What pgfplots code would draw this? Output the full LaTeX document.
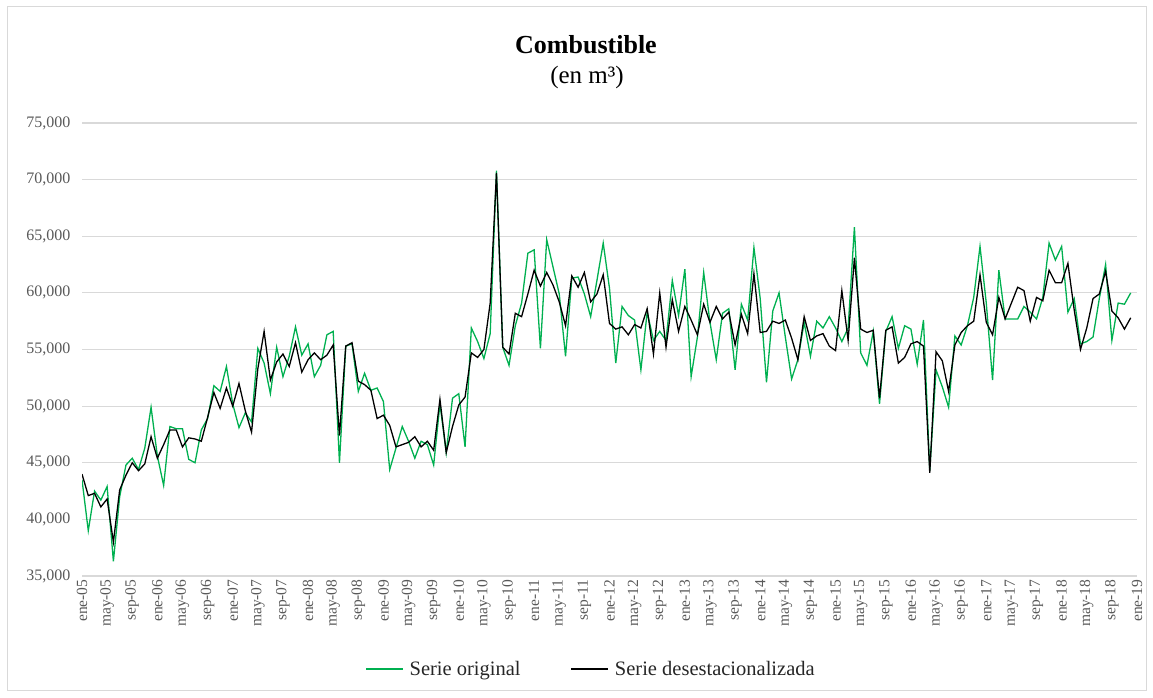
\documentclass[border=0pt]{standalone}
\usepackage{pgfplots}
\usepackage{pgfplotstable}
\pgfplotsset{compat=1.18}
\usepackage{fontspec}
\setmainfont{Liberation Serif}
\definecolor{verde}{HTML}{00B050}
\definecolor{rejilla}{HTML}{D9D9D9}
\definecolor{texto}{HTML}{595959}

% serie original (g) y serie desestacionalizada (b), ene-05 a dic-18
\pgfplotstableread{
g b
43500 44000
39000 42100
42500 42300
41700 41100
42900 41800
36300 38000
42000 42600
44800 43900
45400 45000
44400 44300
46300 44900
49900 47300
45600 45400
43000 46600
48200 47900
48000 47900
48000 46400
45300 47200
45000 47100
47900 46900
48900 49000
51800 51200
51300 49800
53500 51600
50200 50000
48100 52000
49400 49600
48600 47700
55100 53300
53800 56600
51100 52300
55200 53900
52600 54600
54400 53500
57000 55600
54500 53000
55500 54100
52600 54700
53600 54100
56300 54500
56600 55400
45000 47400
55300 55300
55500 55600
51300 52200
52900 51900
51400 51400
51600 48900
50400 49200
44400 48300
46300 46400
48200 46600
46900 46800
45400 47300
46900 46400
46600 46900
44800 46100
50200 50600
45900 45900
50700 48200
51100 50100
46400 50800
56900 54700
55700 54300
54200 55000
56400 59100
70800 70600
55200 55200
53600 54600
57100 58200
59100 57900
63500 59900
63800 62000
55100 60600
64700 61800
62300 60700
59900 59200
54400 57100
61300 61500
61400 60500
59900 61800
57900 59200
61100 59900
64400 61600
60400 57300
53800 56800
58800 57000
58000 56300
57600 57200
53200 56900
58300 58600
55800 54600
56600 60000
55800 55200
61100 59400
58000 56600
62100 58800
52600 57600
56100 56300
61800 59000
57400 57400
54100 58800
58200 57700
58600 58300
53200 55400
59000 58100
57600 56400
64000 61700
59500 56500
52100 56600
58400 57500
60000 57300
56100 57600
52400 56000
54100 54100
57400 57900
54400 55800
57500 56200
56900 56400
57900 55300
56900 54900
55700 60200
56900 55800
65800 63100
54700 56800
53600 56500
56600 56700
50200 50700
56600 56700
57900 57000
55100 53800
57100 54300
56800 55500
53700 55700
57600 55300
44300 44100
53200 54800
51700 54000
49900 51300
56200 55400
55400 56500
57100 57100
59600 57500
64100 61600
59100 57400
52300 56300
62000 59600
57700 57700
57700 59100
57700 60500
58800 60200
58300 57500
57700 59600
59600 59300
64400 62000
62900 60900
64100 60900
58300 62600
59500 58500
55500 55000
55700 56900
56100 59500
59500 59900
62500 61900
55800 58400
59100 57800
59000 56800
60000 57800
}\datos

\begin{document}
\begin{tikzpicture}
\useasboundingbox (0,0) rectangle (1153bp,698bp);
\draw[rejilla, line width=1bp] (7bp,7bp) rectangle (1146bp,691bp);
\node[font=\fontsize{26bp}{30bp}\selectfont\bfseries] at (586bp,653bp) {Combustible};
\node[font=\fontsize{25bp}{29bp}\selectfont] at (587bp,621bp) {(en m³)};
\begin{axis}[
  at={(82bp,122bp)}, anchor=south west,
  scale only axis, width=1055bp, height=453bp,
  xmin=0, xmax=168, ymin=35000, ymax=75000,
  xtick={0,4,...,168},
  xticklabels={ene-05,may-05,sep-05,ene-06,may-06,sep-06,ene-07,may-07,sep-07,ene-08,may-08,sep-08,ene-09,may-09,sep-09,ene-10,may-10,sep-10,ene-11,may-11,sep-11,ene-12,may-12,sep-12,ene-13,may-13,sep-13,ene-14,may-14,sep-14,ene-15,may-15,sep-15,ene-16,may-16,sep-16,ene-17,may-17,sep-17,ene-18,may-18,sep-18,ene-19},
  ytick={35000,40000,...,75000},
  scaled y ticks=false,
  ymajorgrids, grid style={rejilla, line width=1.2bp},
  axis line style={draw=none},
  major tick length=0pt,
  /pgf/number format/.cd, fixed, precision=0, 1000 sep={,}, assume math mode=true,
  /pgfplots/.cd,
  yticklabel style={font=\fontsize{16bp}{18bp}\selectfont, text=texto, xshift=-8bp},
  xticklabel style={font=\fontsize{15.5bp}{18bp}\selectfont, text=texto, rotate=90, anchor=east},
  legend style={at={(0.4825,-0.205)}, anchor=center, draw=none, fill=none,
    font=\fontsize{20.5bp}{23bp}\selectfont, text=black!85,
    /tikz/every odd column/.append style={column sep=4bp},
    /tikz/every even column/.append style={column sep=48bp}},
  legend columns=2,
  legend image code/.code={\draw[#1] (0bp,0bp) -- (37bp,0bp);},
  no markers,
]
\addplot[verde, line width=1.3bp] table[x expr=\coordindex, y=g] {\datos};
\addplot[black, line width=1.3bp] table[x expr=\coordindex, y=b] {\datos};
\legend{Serie original, Serie desestacionalizada}
\end{axis}
\end{tikzpicture}
\end{document}
